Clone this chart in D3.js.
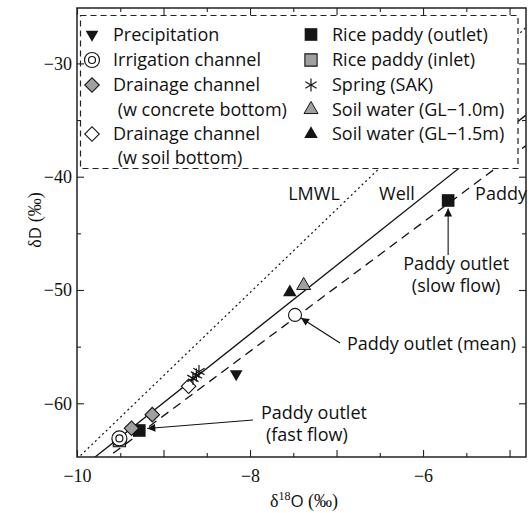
<!DOCTYPE html>
<html>
<head>
<meta charset="utf-8">
<script src="https://cdn.jsdelivr.net/npm/d3@7"></script>
<style>
  body { margin: 0; background: #fff; }
  svg { display: block; }
  .serif { font-family: "Liberation Serif", "Times New Roman", serif; }
  .sans { font-family: "Open Sans", "Noto Sans", sans-serif; }
</style>
</head>
<body>
<div id="chart"></div>
<script>
// ---- data ----
const precipitation = [[-8.16, -57.4]];
const irrigation = [[-9.51, -63.1]];
const drainConcrete = [[-9.37, -62.2], [-9.13, -61.0]];
const drainSoil = [[-8.71, -58.5]];
const paddyOutlet = [[-5.71, -42.1], [-9.28, -62.4]];
const paddyInlet = [[-9.51, -63.3]];
const spring = [[-8.66, -57.8], [-8.62, -57.5], [-8.59, -57.2]];
const soil10 = [[-7.38, -49.6]];
const soil15 = [[-7.54, -50.2]];
const paddyMean = [[-7.48, -52.2]];

// regression lines dD = a*d18O + b
const lineNames = ["LMWL", "Well", "Paddy"];
const lineSlopes = [7.34, 6.06, 5.69];
const lineIntercepts = [8.49, -5.41, -9.89];

const xDomain = [-10, -4.81];
const yDomain = [-64.74, -25.11];
const xMajor = [-10, -9, -8, -7, -6, -5];
const xMinor = [-9.5, -8.5, -7.5, -6.5, -5.5];
const xLabels = [-10, -8, -6];
const yMajor = [-60, -50, -40, -30];
const yMinor = [-55, -45, -35];
const yLabels = [-60, -50, -40, -30];

const W = 529, H = 513;
const plot = {left: 77, right: 526, top: 8, bottom: 457};
const FS = 18;

const svg = d3.select("#chart").append("svg")
  .attr("width", W).attr("height", H);

const x = d3.scaleLinear().domain(xDomain).range([plot.left, plot.right]);
const y = d3.scaleLinear().domain(yDomain).range([plot.bottom, plot.top]);

svg.append("clipPath").attr("id", "clip")
  .append("rect")
  .attr("x", plot.left).attr("y", plot.top)
  .attr("width", plot.right - plot.left).attr("height", plot.bottom - plot.top);

// lines
const lineStyles = ["2,3", null, "9,6"];
const lineG = svg.append("g").attr("clip-path", "url(#clip)");
lineNames.forEach(function(name, i) {
  const x0 = xDomain[0], x1 = xDomain[1];
  lineG.append("line")
    .attr("x1", x(x0)).attr("y1", y(lineSlopes[i] * x0 + lineIntercepts[i]))
    .attr("x2", x(x1)).attr("y2", y(lineSlopes[i] * x1 + lineIntercepts[i]))
    .attr("stroke", "#111")
    .attr("stroke-width", i === 0 ? 1.2 : 1.3)
    .attr("stroke-dasharray", lineStyles[i]);
});

// marker helpers
const GRAY = "#a0a0a0", BLACK = "#151515";
function sym(type, size) {
  return d3.symbol().type(type).size(size)();
}
function drawSymbol(g, kind) {
  if (kind === "precip") {
    g.append("path").attr("d", sym(d3.symbolTriangle, 70)).attr("transform", "rotate(180)")
      .attr("fill", BLACK);
  } else if (kind === "irrig") {
    g.append("circle").attr("r", 7.5).attr("fill", "#fff").attr("stroke", BLACK).attr("stroke-width", 1.2);
    g.append("circle").attr("r", 3.5).attr("fill", "none").attr("stroke", BLACK).attr("stroke-width", 1.2);
  } else if (kind === "drainC" || kind === "drainS") {
    g.append("path").attr("d", sym(d3.symbolSquare, 105)).attr("transform", "rotate(45)")
      .attr("fill", kind === "drainC" ? GRAY : "#fff").attr("stroke", BLACK).attr("stroke-width", 1.1);
  } else if (kind === "outlet") {
    g.append("path").attr("d", sym(d3.symbolSquare, 160)).attr("fill", BLACK);
  } else if (kind === "inlet") {
    g.append("path").attr("d", sym(d3.symbolSquare, 150)).attr("fill", GRAY)
      .attr("stroke", BLACK).attr("stroke-width", 1.1);
  } else if (kind === "spring") {
    [90, 30, -30].forEach(function(a) {
      const r = 6.5, t = a * Math.PI / 180;
      g.append("line")
        .attr("x1", -r * Math.cos(t)).attr("y1", -r * Math.sin(t))
        .attr("x2", r * Math.cos(t)).attr("y2", r * Math.sin(t))
        .attr("stroke", BLACK).attr("stroke-width", 1.2);
    });
  } else if (kind === "soil10") {
    g.append("path").attr("d", sym(d3.symbolTriangle, 85)).attr("fill", GRAY)
      .attr("stroke", BLACK).attr("stroke-width", 1.0);
  } else if (kind === "soil15") {
    g.append("path").attr("d", sym(d3.symbolTriangle, 80)).attr("fill", BLACK);
  } else if (kind === "mean") {
    g.append("circle").attr("r", 6.5).attr("fill", "#fff").attr("stroke", BLACK).attr("stroke-width", 1.1);
  }
}

// points (drawing order matters for overlaps)
const series = [
  ["inlet", paddyInlet], ["outlet", paddyOutlet], ["irrig", irrigation],
  ["drainC", drainConcrete], ["drainS", drainSoil], ["spring", spring],
  ["precip", precipitation], ["soil15", soil15], ["soil10", soil10], ["mean", paddyMean]
];
const ptG = svg.append("g");
series.forEach(function(s) {
  s[1].forEach(function(d) {
    const g = ptG.append("g").attr("transform", "translate(" + x(d[0]) + "," + y(d[1]) + ")");
    drawSymbol(g, s[0]);
  });
});

// legend
const legend = svg.append("g");
legend.append("rect")
  .attr("x", 80.5).attr("y", 15.5).attr("width", 437.5).attr("height", 153)
  .attr("fill", "#fff").attr("stroke", "#222").attr("stroke-width", 1.2)
  .attr("stroke-dasharray", "6,4");

const legendLeft = [
  ["precip", ["Precipitation"]],
  ["irrig", ["Irrigation channel"]],
  ["drainC", ["Drainage channel", " (w concrete bottom)"]],
  ["drainS", ["Drainage channel", " (w soil bottom)"]]
];
const legendRight = [
  ["outlet", "Rice paddy (outlet)"],
  ["inlet", "Rice paddy (inlet)"],
  ["spring", "Spring (SAK)"],
  ["soil10", "Soil water (GL\u22121.0m)"],
  ["soil15", "Soil water (GL\u22121.5m)"]
];
const rowY = [34.5, 60, 85, 109.5, 134, 157.5];
const leftRows = [0, 1, 2, 4];
legendLeft.forEach(function(item, i) {
  const r = leftRows[i];
  const g = legend.append("g").attr("transform", "translate(92," + rowY[r] + ")");
  drawSymbol(g, item[0]);
  item[1].forEach(function(t, j) {
    legend.append("text").attr("class", "sans")
      .attr("x", 113).attr("y", rowY[r + j]).attr("dy", "0.36em")
      .attr("font-size", FS).attr("fill", "#111")
      .style("white-space", "pre")
      .text(t);
  });
});
legendRight.forEach(function(item, i) {
  const g = legend.append("g").attr("transform", "translate(311," + rowY[i] + ")");
  drawSymbol(g, item[0]);
  legend.append("text").attr("class", "sans")
    .attr("x", 332).attr("y", rowY[i]).attr("dy", "0.36em")
    .attr("font-size", FS).attr("fill", "#111")
    .text(item[1]);
});

// line labels
const lineLabelX = [314, 397, 501];
lineNames.forEach(function(name, i) {
  svg.append("text").attr("class", "sans")
    .attr("x", lineLabelX[i]).attr("y", 200)
    .attr("text-anchor", "middle").attr("font-size", FS).attr("fill", "#111")
    .text(name);
});

// annotations
svg.append("defs").append("marker")
  .attr("id", "arrow").attr("viewBox", "0 0 10 10")
  .attr("refX", 10).attr("refY", 5)
  .attr("markerWidth", 10).attr("markerHeight", 8)
  .attr("markerUnits", "userSpaceOnUse")
  .attr("orient", "auto")
  .append("path").attr("d", "M0,0L10,5L0,10z").attr("fill", "#111");

function annotate(lines, tx, ty, gap, anchor, from, to) {
  const t = svg.append("text").attr("class", "sans")
    .attr("font-size", FS).attr("fill", "#111").attr("text-anchor", anchor);
  lines.forEach(function(l, j) {
    t.append("tspan").attr("x", tx + (l.dx || 0)).attr("y", ty + j * gap).text(l.t);
  });
  svg.append("line")
    .attr("x1", from[0]).attr("y1", from[1]).attr("x2", to[0]).attr("y2", to[1])
    .attr("stroke", "#111").attr("stroke-width", 1.1)
    .attr("marker-end", "url(#arrow)");
}
const slow = paddyOutlet[0], fast = paddyOutlet[1], mean = paddyMean[0];
annotate([{t: "Paddy outlet"}, {t: "(slow flow)"}], x(slow[0]) + 8, 270, 22, "middle",
  [x(slow[0]), 255], [x(slow[0]), y(slow[1]) + 8]);
annotate([{t: "Paddy outlet (mean)"}], 347, 350, 0, "start",
  [340, 343], [x(mean[0]) + 6, y(mean[1]) + 3]);
annotate([{t: "Paddy outlet"}, {t: "(fast flow)", dx: 5}], 261, 419, 22, "start",
  [253, 420], [x(fast[0]) + 8, y(fast[1]) - 2]);

// axes
const axG = svg.append("g");
function styleAxis(g) {
  g.select(".domain").remove();
  g.selectAll(".tick line").attr("stroke", "#222").attr("stroke-width", 1.1);
  g.selectAll("text").attr("class", "serif").attr("font-size", 18).attr("fill", "#111");
}
const fmt = d3.format("d");
axG.append("g").attr("transform", "translate(0," + plot.bottom + ")")
  .call(d3.axisBottom(x).tickValues(xMajor).tickSizeInner(-7).tickSizeOuter(0).tickPadding(12)
    .tickFormat(function(d) { return xLabels.includes(d) ? fmt(d) : ""; }))
  .call(styleAxis);
axG.append("g").attr("transform", "translate(0," + plot.bottom + ")")
  .call(d3.axisBottom(x).tickValues(xMinor).tickSizeInner(-4).tickSizeOuter(0).tickFormat(""))
  .call(styleAxis);
axG.append("g").attr("transform", "translate(0," + plot.top + ")")
  .call(d3.axisTop(x).tickValues(xMajor).tickSizeInner(-7).tickSizeOuter(0).tickFormat(""))
  .call(styleAxis);
axG.append("g").attr("transform", "translate(0," + plot.top + ")")
  .call(d3.axisTop(x).tickValues(xMinor).tickSizeInner(-4).tickSizeOuter(0).tickFormat(""))
  .call(styleAxis);
axG.append("g").attr("transform", "translate(" + plot.left + ",0)")
  .call(d3.axisLeft(y).tickValues(yMajor).tickSizeInner(-7).tickSizeOuter(0).tickPadding(5)
    .tickFormat(function(d) { return yLabels.includes(d) ? fmt(d) : ""; }))
  .call(styleAxis);
axG.append("g").attr("transform", "translate(" + plot.left + ",0)")
  .call(d3.axisLeft(y).tickValues(yMinor).tickSizeInner(-4).tickSizeOuter(0).tickFormat(""))
  .call(styleAxis);
axG.append("g").attr("transform", "translate(" + plot.right + ",0)")
  .call(d3.axisRight(y).tickValues(yMajor).tickSizeInner(-7).tickSizeOuter(0).tickFormat(""))
  .call(styleAxis);
axG.append("g").attr("transform", "translate(" + plot.right + ",0)")
  .call(d3.axisRight(y).tickValues(yMinor).tickSizeInner(-4).tickSizeOuter(0).tickFormat(""))
  .call(styleAxis);

svg.append("rect")
  .attr("x", plot.left).attr("y", plot.top)
  .attr("width", plot.right - plot.left).attr("height", plot.bottom - plot.top)
  .attr("fill", "none").attr("stroke", "#222").attr("stroke-width", 1.5);

// axis titles
const xt = svg.append("text").attr("x", 304).attr("y", 507)
  .attr("text-anchor", "middle").attr("font-size", 18).attr("fill", "#111");
xt.append("tspan").attr("class", "serif").text("\u03b4");
xt.append("tspan").attr("class", "serif").attr("font-size", 12).attr("dy", -7).text("18");
xt.append("tspan").attr("class", "sans").attr("font-size", 17).attr("dy", 7).text("O");
xt.append("tspan").attr("class", "serif").text(" (\u2030)");

const yt = svg.append("text")
  .attr("transform", "translate(41,220) rotate(-90)")
  .attr("text-anchor", "middle").attr("font-size", 18).attr("fill", "#111");
yt.append("tspan").attr("class", "serif").text("\u03b4");
yt.append("tspan").attr("class", "sans").attr("font-size", 17).text("D");
yt.append("tspan").attr("class", "serif").text(" (\u2030)");
</script>
</body>
</html>
